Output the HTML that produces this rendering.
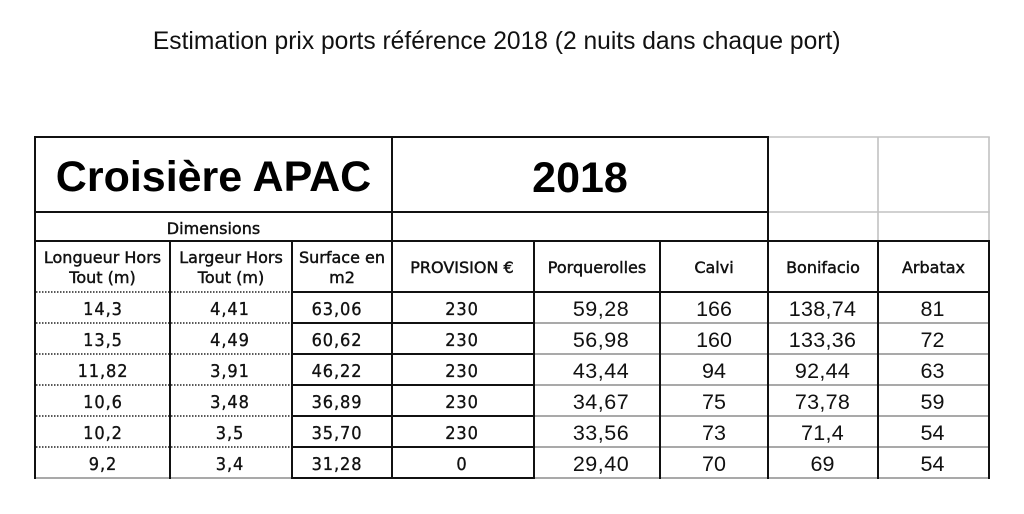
<!DOCTYPE html>
<html>
<head>
<meta charset="utf-8">
<style>
  html, body { margin: 0; padding: 0; background: #fff; }
  svg { display: block; }
</style>
</head>
<body>
<svg width="1024" height="514" xmlns="http://www.w3.org/2000/svg">
  <rect width="1024" height="514" fill="#fff"/>

  <!-- Page title -->
  <text x="496.7" y="49" font-family="Liberation Sans, sans-serif" font-size="24.6" text-anchor="middle" fill="#111">Estimation prix ports référence 2018 (2 nuits dans chaque port)</text>

  <!-- Grey borders, top-right empty cells -->
  <g stroke="#c2c2c2" stroke-width="1.6" fill="none">
    <line x1="768" y1="137" x2="989.8" y2="137"/>
    <line x1="768" y1="212" x2="989.8" y2="212"/>
    <line x1="878" y1="137" x2="878" y2="241"/>
    <line x1="989" y1="137" x2="989" y2="241"/>
  </g>

  <!-- Grey row separators (right numeric columns) and grey bottom border (left columns) -->
  <g stroke="#a9a9a9" stroke-width="2" fill="none">
    <line x1="534" y1="323" x2="989" y2="323"/>
    <line x1="534" y1="354" x2="989" y2="354"/>
    <line x1="534" y1="385" x2="989" y2="385"/>
    <line x1="534" y1="416" x2="989" y2="416"/>
    <line x1="534" y1="447" x2="989" y2="447"/>
    <line x1="534" y1="478" x2="990" y2="478"/>
    <line x1="34" y1="478" x2="292" y2="478"/>
  </g>

  <!-- Dotted row separators (first two columns) -->
  <g stroke="#222" stroke-width="1.5" stroke-dasharray="1.5,1.5" fill="none">
    <line x1="36" y1="292" x2="292" y2="292"/>
    <line x1="36" y1="323" x2="292" y2="323"/>
    <line x1="36" y1="354" x2="292" y2="354"/>
    <line x1="36" y1="385" x2="292" y2="385"/>
    <line x1="36" y1="416" x2="292" y2="416"/>
    <line x1="36" y1="447" x2="292" y2="447"/>
  </g>

  <!-- Black grid -->
  <g stroke="#111" stroke-width="2" fill="none" stroke-linecap="square">
    <line x1="35" y1="137" x2="768" y2="137"/>
    <line x1="35" y1="212" x2="768" y2="212"/>
    <line x1="35" y1="241" x2="989" y2="241"/>
    <line x1="292" y1="292" x2="989" y2="292"/>
    <line x1="292" y1="323" x2="534" y2="323"/>
    <line x1="292" y1="354" x2="534" y2="354"/>
    <line x1="292" y1="385" x2="534" y2="385"/>
    <line x1="292" y1="416" x2="534" y2="416"/>
    <line x1="292" y1="447" x2="534" y2="447"/>
    <line x1="292" y1="478" x2="534" y2="478"/>

    <line x1="35" y1="137" x2="35" y2="478"/>
    <line x1="392" y1="137" x2="392" y2="478"/>
    <line x1="768" y1="137" x2="768" y2="478"/>
    <line x1="170" y1="241" x2="170" y2="478"/>
    <line x1="292" y1="241" x2="292" y2="478"/>
    <line x1="534" y1="241" x2="534" y2="478"/>
    <line x1="660" y1="241" x2="660" y2="478"/>
    <line x1="878" y1="241" x2="878" y2="478"/>
    <line x1="989" y1="241" x2="989" y2="478"/>
  </g>

  <!-- Big title cells -->
  <g font-family="Liberation Sans, sans-serif" font-weight="bold" font-size="43" text-anchor="middle" fill="#000">
    <text x="213.5" y="191">Croisière APAC</text>
    <text x="580" y="192">2018</text>
  </g>

  <!-- Headers -->
  <g font-family="DejaVu Sans, sans-serif" font-size="16" text-anchor="middle" fill="#111" stroke="#111" stroke-width="0.45">
    <text x="213.5" y="234">Dimensions</text>

    <text x="102.5" y="263">Longueur Hors</text>
    <text x="102.5" y="283">Tout (m)</text>
    <text x="231" y="263">Largeur Hors</text>
    <text x="231" y="283">Tout (m)</text>
    <text x="342" y="263">Surface en</text>
    <text x="342" y="283">m2</text>

    <text x="462" y="273">PROVISION €</text>
    <text x="597" y="273">Porquerolles</text>
    <text x="714" y="273">Calvi</text>
    <text x="823" y="273">Bonifacio</text>
    <text x="933.5" y="273">Arbatax</text>
  </g>

  <!-- Left data (humanist font, slightly condensed) -->
  <g font-family="DejaVu Sans, sans-serif" font-size="18" text-anchor="middle" fill="#111" stroke="#111" stroke-width="0.35" letter-spacing="1">
    <!-- row 1 -->
    <text transform="translate(103,315) scale(0.9,1)">14,3</text>
    <text transform="translate(230,315) scale(0.9,1)">4,41</text>
    <text transform="translate(337,315) scale(0.9,1)">63,06</text>
    <text transform="translate(462,315) scale(0.9,1)">230</text>
    <!-- row 2 -->
    <text transform="translate(103,346) scale(0.9,1)">13,5</text>
    <text transform="translate(230,346) scale(0.9,1)">4,49</text>
    <text transform="translate(337,346) scale(0.9,1)">60,62</text>
    <text transform="translate(462,346) scale(0.9,1)">230</text>
    <!-- row 3 -->
    <text transform="translate(103,377) scale(0.9,1)">11,82</text>
    <text transform="translate(230,377) scale(0.9,1)">3,91</text>
    <text transform="translate(337,377) scale(0.9,1)">46,22</text>
    <text transform="translate(462,377) scale(0.9,1)">230</text>
    <!-- row 4 -->
    <text transform="translate(103,408) scale(0.9,1)">10,6</text>
    <text transform="translate(230,408) scale(0.9,1)">3,48</text>
    <text transform="translate(337,408) scale(0.9,1)">36,89</text>
    <text transform="translate(462,408) scale(0.9,1)">230</text>
    <!-- row 5 -->
    <text transform="translate(103,439) scale(0.9,1)">10,2</text>
    <text transform="translate(230,439) scale(0.9,1)">3,5</text>
    <text transform="translate(337,439) scale(0.9,1)">35,70</text>
    <text transform="translate(462,439) scale(0.9,1)">230</text>
    <!-- row 6 -->
    <text transform="translate(103,470) scale(0.9,1)">9,2</text>
    <text transform="translate(230,470) scale(0.9,1)">3,4</text>
    <text transform="translate(337,470) scale(0.9,1)">31,28</text>
    <text transform="translate(462,470) scale(0.9,1)">0</text>
  </g>

  <!-- Right data (Helvetica-like) -->
  <g font-family="Liberation Sans, sans-serif" font-size="21.5" text-anchor="middle" fill="#111">
    <text x="601" y="316" letter-spacing="0.5">59,28</text>
    <text x="714" y="316">166</text>
    <text x="822.5" y="316" letter-spacing="0.3">138,74</text>
    <text x="932.5" y="316">81</text>

    <text x="601" y="347" letter-spacing="0.5">56,98</text>
    <text x="714" y="347">160</text>
    <text x="822.5" y="347" letter-spacing="0.3">133,36</text>
    <text x="932.5" y="347">72</text>

    <text x="601" y="378" letter-spacing="0.5">43,44</text>
    <text x="714" y="378">94</text>
    <text x="822.5" y="378" letter-spacing="0.3">92,44</text>
    <text x="932.5" y="378">63</text>

    <text x="601" y="409" letter-spacing="0.5">34,67</text>
    <text x="714" y="409">75</text>
    <text x="822.5" y="409" letter-spacing="0.3">73,78</text>
    <text x="932.5" y="409">59</text>

    <text x="601" y="440" letter-spacing="0.5">33,56</text>
    <text x="714" y="440">73</text>
    <text x="822.5" y="440" letter-spacing="0.3">71,4</text>
    <text x="932.5" y="440">54</text>

    <text x="601" y="471" letter-spacing="0.5">29,40</text>
    <text x="714" y="471">70</text>
    <text x="822.5" y="471">69</text>
    <text x="932.5" y="471">54</text>
  </g>
</svg>
</body>
</html>
